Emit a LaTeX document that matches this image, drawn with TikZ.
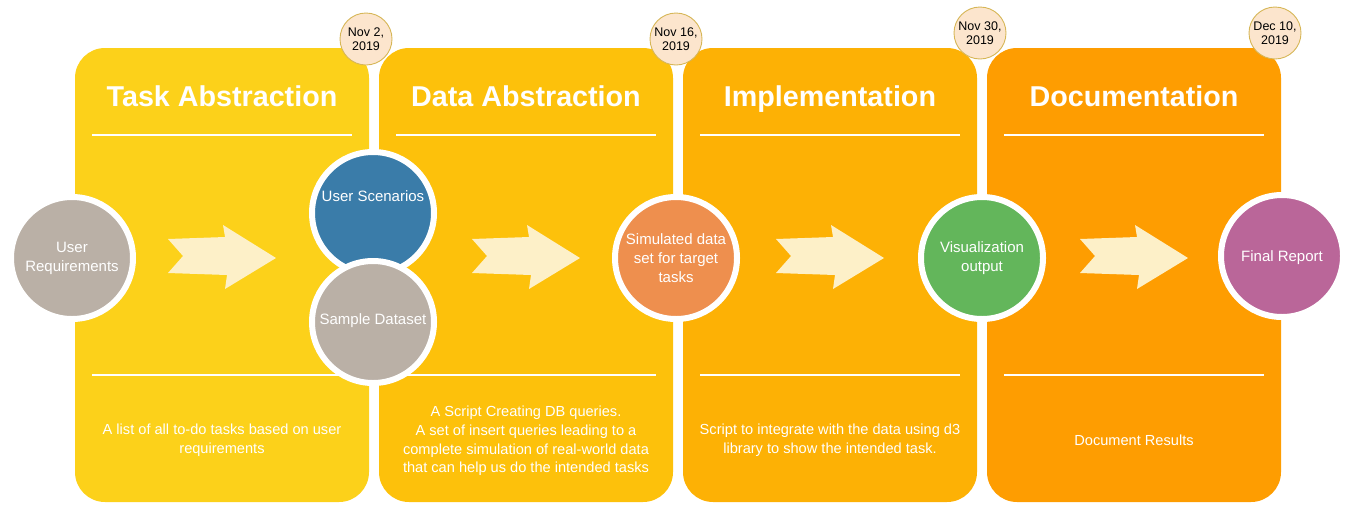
\documentclass[tikz,border=0pt]{standalone}
\usepackage{fontspec}
\setmainfont{Liberation Sans}
\definecolor{pA}{HTML}{FCD11A}
\definecolor{pB}{HTML}{FDC10B}
\definecolor{pC}{HTML}{FDB105}
\definecolor{pD}{HTML}{FE9D01}
\definecolor{datefill}{HTML}{FCE5CD}
\definecolor{dateline}{HTML}{D6B656}
\definecolor{cgray}{HTML}{BAB0A6}
\definecolor{cblue}{HTML}{3A7CA9}
\definecolor{corange}{HTML}{EE8F4E}
\definecolor{cgreen}{HTML}{63B65B}
\definecolor{cpurple}{HTML}{BA6699}
\definecolor{arrowfill}{HTML}{FDF0C8}
\tikzset{
  panel/.style={rounded corners=30pt, minimum width=294pt, minimum height=454pt, inner sep=0pt, draw=none},
  title/.style={text=white, anchor=base, font=\fontsize{28.7}{32}\selectfont\bfseries},
  rule/.style={white, line width=2pt},
  desc/.style={text=white, align=center, font=\fontsize{14.6}{18.8}\selectfont},
  datec/.style={circle, fill=datefill, draw=dateline, line width=0.9pt, minimum size=52pt, inner sep=0pt, align=center, font=\fontsize{12.5}{14}\selectfont},
  bigc/.style={circle, draw=white, line width=6pt, minimum size=122pt, inner sep=0pt},
  ctext/.style={text=white, align=center, font=\fontsize{15}{18.8}\selectfont},
  blockarrow/.style={fill=arrowfill, draw=none}
}
\newcommand{\chevarrow}[2]{%
  \fill[blockarrow] (#1,#2) ++(0,-19) -- ++(57,-2) -- ++(-2,-12) -- ++(53,33)
    -- ++(-51,31) -- ++(2,-14) -- ++(-59,-2) -- ++(15,-17) -- cycle;}
\begin{document}
\begin{tikzpicture}[x=1pt, y=-1pt]
\useasboundingbox (0,0) rectangle (1346,504);
% panels
\node[panel, fill=pA] (p1) at (222,275) {};
\node[panel, fill=pB] (p2) at (526,275) {};
\node[panel, fill=pC] (p3) at (830,275) {};
\node[panel, fill=pD] (p4) at (1134,275) {};
% titles
\node[title] (t1) at (222,106) {Task Abstraction};
\node[title] (t2) at (526,106) {Data Abstraction};
\node[title] (t3) at (830,106) {Implementation};
\node[title] (t4) at (1134,106) {Documentation};
% rules
\foreach \cx in {222,526,830,1134}{
  \draw[rule] (\cx-130,135) -- (\cx+130,135);
  \draw[rule] (\cx-130,375) -- (\cx+130,375);
}
% descriptions
\node[desc] (d1) at (222,440) {A list of all to-do tasks based on user\\requirements};
\node[desc] (d2) at (526,441) {A Script Creating DB queries.\\A set of insert queries leading to a\\complete simulation of real-world data\\that can help us do the intended tasks};
\node[desc] (d3) at (830,440) {Script to integrate with the data using d3\\library to show the intended task.};
\node[desc] (d4) at (1134,440) {Document Results};
% arrows
\chevarrow{168}{258}
\chevarrow{472}{258}
\chevarrow{776}{258}
\chevarrow{1080}{258}
% circles
\node[bigc, fill=cgray] (ur) at (72,258) {};
\node[ctext] (urt) at (72,258) {User\\Requirements};
\node[bigc, fill=cblue] (us) at (373,213) {};
\node[ctext] (ust) at (373,196) {User Scenarios};
\node[bigc, fill=cgray] (sd) at (373,322) {};
\node[ctext] (sdt) at (373,321) {Sample Dataset};
\node[bigc, fill=corange] (sim) at (676,258) {};
\node[ctext] (simt) at (676,258) {Simulated data\\set for target\\tasks};
\node[bigc, fill=cgreen] (vis) at (982,258) {};
\node[ctext] (vist) at (982,258) {Visualization\\output};
\node[bigc, fill=cpurple] (fr) at (1282,256) {};
\node[ctext] (frt) at (1282,258) {Final Report};
% dates
\node[datec] (n1) at (366,39) {Nov 2,\\2019};
\node[datec] (n2) at (676,39) {Nov 16,\\2019};
\node[datec] (n3) at (980,33) {Nov 30,\\2019};
\node[datec] (n4) at (1275,33) {Dec 10,\\2019};
\end{tikzpicture}
\end{document}
